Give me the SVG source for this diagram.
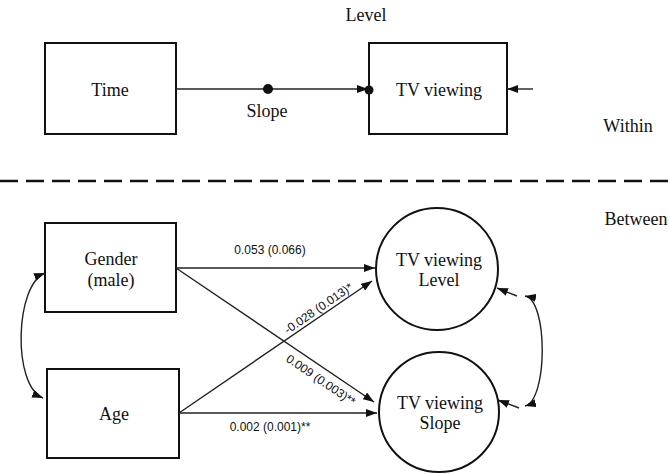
<svg xmlns="http://www.w3.org/2000/svg" width="670" height="474" viewBox="0 0 670 474">
<style>
.box{fill:#fff;stroke:#111;stroke-width:2}
.lbl{font-family:"Liberation Serif","Times New Roman",serif;font-size:18px;fill:#111;text-anchor:middle}
.num{font-family:"Liberation Sans",Arial,sans-serif;font-size:12px;fill:#111;text-anchor:middle}
.ln{fill:none;stroke:#222;stroke-width:1.4}
</style>
<defs>
<marker id="ah" viewBox="0 0 11 8" refX="11" refY="4" markerWidth="11" markerHeight="8" markerUnits="userSpaceOnUse" orient="auto-start-reverse">
<path d="M0,0 L11,4 L0,8 Z" fill="#111"/>
</marker>
</defs>
<rect width="670" height="474" fill="#fff"/>
<text class="lbl" x="366" y="21">Level</text>
<text class="lbl" x="628" y="132">Within</text>
<text class="lbl" x="636" y="225">Between</text>
<line x1="0" y1="181" x2="670" y2="181" stroke="#111" stroke-width="2.5" stroke-dasharray="18,8"/>
<g id="time"><rect class="box" x="45" y="43" width="131" height="91"/><text class="lbl" x="110" y="96">Time</text></g>
<g id="tvviewing"><rect class="box" x="369" y="43" width="138" height="91"/><text class="lbl" x="439" y="96">TV viewing</text></g>
<g id="gender"><rect class="box" x="45" y="223" width="131" height="89"/><text class="lbl" x="111" y="265">Gender</text><text class="lbl" x="111" y="286">(male)</text></g>
<g id="age"><rect class="box" x="47" y="369" width="132" height="89"/><text class="lbl" x="114" y="420">Age</text></g>
<g id="level"><circle cx="437" cy="269" r="61" fill="#fff" stroke="#111" stroke-width="2"/><text class="lbl" x="439" y="266">TV viewing</text><text class="lbl" x="439" y="286">Level</text></g>
<g id="slope"><circle cx="439" cy="412" r="60" fill="#fff" stroke="#111" stroke-width="2"/><text class="lbl" x="440" y="409">TV viewing</text><text class="lbl" x="440" y="429">Slope</text></g>
<g id="connectors">
<line class="ln" x1="176" y1="89" x2="368" y2="89" marker-end="url(#ah)"/>
<circle cx="268" cy="89" r="5" fill="#111"/>
<circle cx="369" cy="90" r="4.5" fill="#111"/>
<text class="lbl" x="267" y="117">Slope</text>
<line class="ln" x1="533" y1="89" x2="507" y2="89" marker-end="url(#ah)"/>
<line class="ln" x1="176" y1="268" x2="375" y2="268" marker-end="url(#ah)"/>
<text class="num" x="270" y="254">0.053 (0.066)</text>
<line class="ln" x1="176" y1="268" x2="374" y2="402" marker-end="url(#ah)"/>
<line class="ln" x1="179" y1="413" x2="372" y2="281" marker-end="url(#ah)"/>
<line class="ln" x1="179" y1="413" x2="377" y2="413" marker-end="url(#ah)"/>
<text class="num" x="270" y="431">0.002 (0.001)**</text>
<text class="num" transform="translate(323,315) rotate(-34.4)" dy="-4">-0.028 (0.013)*</text>
<text class="num" transform="translate(327,371) rotate(34.2)" dy="15">0.009 (0.003)**</text>
<path class="ln" d="M45,273 C15,285 12,385 43,398" marker-start="url(#ah)" marker-end="url(#ah)"/>
<path class="ln" d="M525,296 C548,300 548,400 525,406" marker-start="url(#ah)" marker-end="url(#ah)"/>
<line class="ln" x1="517" y1="296" x2="497" y2="288" marker-end="url(#ah)"/>
<line class="ln" x1="519" y1="408" x2="498" y2="400" marker-end="url(#ah)"/>
</g>
</svg>
